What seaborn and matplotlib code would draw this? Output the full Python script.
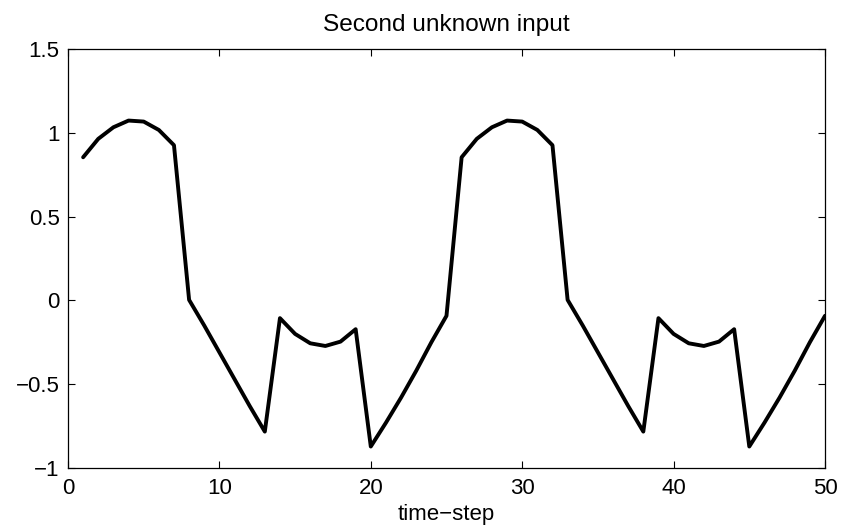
import numpy as np
import pandas as pd
import matplotlib
matplotlib.use('Agg')
import matplotlib.pyplot as plt
import seaborn as sns

# Estilo base
sns.set_style('white')
plt.rcParams['font.family'] = ['Liberation Sans', 'DejaVu Sans']
plt.rcParams['text.color'] = 'black'
plt.rcParams['axes.labelcolor'] = 'black'
plt.rcParams['xtick.color'] = 'black'
plt.rcParams['ytick.color'] = 'black'

# Datos (un periodo de 25 pasos, repetido dos veces)
time_step = list(range(1, 51))
period_values = [0.854, 0.964, 1.033, 1.073, 1.067, 1.017, 0.926,
                 0.003, -0.15, -0.31, -0.47, -0.63, -0.783,
                 -0.106, -0.200, -0.256, -0.272, -0.246, -0.172,
                 -0.872, -0.73, -0.58, -0.42, -0.25, -0.092]
second_input = period_values + period_values

x_ticks = [0, 10, 20, 30, 40, 50]
y_ticks = [-1, -0.5, 0, 0.5, 1, 1.5]
y_labels = ['\u22121', '\u22120.5', '0', '0.5', '1', '1.5']

df = pd.DataFrame({'time-step': time_step, 'value': second_input})

fig = plt.figure(figsize=(8.52, 5.27), dpi=100)
ax = fig.add_axes([0.0798, 0.112, 0.8885, 0.795])
sns.lineplot(data=df, x='time-step', y='value', color='black', linewidth=2.8, ax=ax)

ax.set_xlim(0, 50)
ax.set_ylim(-1, 1.5)
ax.set_xticks(x_ticks)
ax.set_yticks(y_ticks)
ax.set_yticklabels(y_labels)
ax.set_title('Second unknown input', fontsize=17.6, pad=13)
ax.set_xlabel('time\u2212step', fontsize=16, labelpad=4)
ax.set_ylabel('')
ax.tick_params(direction='in', length=5, width=0.8, labelsize=16,
               top=True, right=True, bottom=True, left=True)
ax.tick_params(axis='x', pad=7)
ax.tick_params(axis='y', pad=6)
for spine in ax.spines.values():
    spine.set_visible(True)
    spine.set_color('black')
    spine.set_linewidth(0.9)

fig.savefig('out.png', dpi=100)
plt.close(fig)
